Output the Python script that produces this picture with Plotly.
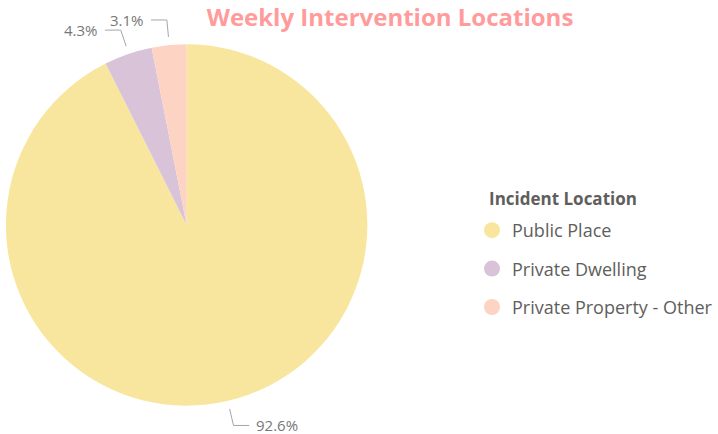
import numpy as np
import plotly.graph_objects as go

# data
labels = ["Public Place", "Private Dwelling", "Private Property - Other"]
values = [92.6, 4.3, 3.1]
colors = ["#F9E69E", "#D9C3D8", "#FDD3C3"]

W, H = 718, 434
cx, cy, r = 189, 225, 183  # pie centre / radius in px


def px(x, y):
    return x / W, 1 - y / H


fig = go.Figure()

fig.add_trace(go.Pie(
    labels=labels,
    values=values,
    marker=dict(colors=colors, line=dict(width=0)),
    sort=False,
    direction="clockwise",
    textinfo="none",
    showlegend=False,
    domain=dict(x=[(cx - r) / W, (cx + r) / W],
                y=[1 - (cy + r) / H, 1 - (cy - r) / H]),
))

# legend entries with round markers
for lab, col in zip(labels, colors):
    fig.add_trace(go.Scatter(
        x=[None], y=[None], mode="markers",
        marker=dict(size=16, color=col),
        name=lab, legendgroup=lab,
    ))

# outside labels with elbow leader lines
vals = np.array(values)
mid = (np.cumsum(vals) - vals / 2) / vals.sum()
for v, m in zip(vals, mid):
    th = 2 * np.pi * m
    dx, dy = np.sin(th), -np.cos(th)
    side = 1 if dx > 0 else -1
    x0, y0 = cx + (r + 6) * dx, cy + (r + 6) * dy
    x1, y1 = cx + (r + 23) * dx, cy + (r + 23) * dy
    x2 = x1 + side * 16
    p0, p1, p2 = px(x0, y0), px(x1, y1), px(x2, y1)
    fig.add_shape(type="path", xref="paper", yref="paper",
                  path=f"M {p0[0]},{p0[1]} L {p1[0]},{p1[1]} L {p2[0]},{p2[1]}",
                  line=dict(color="#A6A6A6", width=1))
    tx, ty = px(x2 + side * 5, y1)
    fig.add_annotation(x=tx, y=ty, xref="paper", yref="paper",
                       text=f"{v:.1f}%", showarrow=False,
                       xanchor="left" if side > 0 else "right", yanchor="middle",
                       font=dict(size=15, color="#777777"))

# legend title
lx, ly = px(493, 198)
fig.add_annotation(x=lx, y=ly, xref="paper", yref="paper",
                   text="<b>Incident Location</b>", showarrow=False,
                   xanchor="left", yanchor="middle",
                   font=dict(size=17, color="#605E5C"))

fig.update_layout(
    width=W, height=H,
    margin=dict(l=0, r=0, t=0, b=0),
    paper_bgcolor="white", plot_bgcolor="white",
    font=dict(family="Open Sans", color="#605E5C"),
    title=dict(text="<b>Weekly Intervention Locations</b>",
               x=390 / W, xanchor="center", y=1 - 18 / H, yanchor="middle",
               font=dict(size=24, color="#FF9B9B")),
    xaxis=dict(visible=False),
    yaxis=dict(visible=False),
    legend=dict(
        x=478 / W, xanchor="left", y=1 - 212 / H, yanchor="top",
        font=dict(size=18, color="#605E5C"),
        tracegroupgap=12, itemwidth=30,
        bgcolor="rgba(0,0,0,0)",
    ),
)

fig.write_html("out.html", config={"displayModeBar": False},
               post_script="document.body.style.margin='0';")
